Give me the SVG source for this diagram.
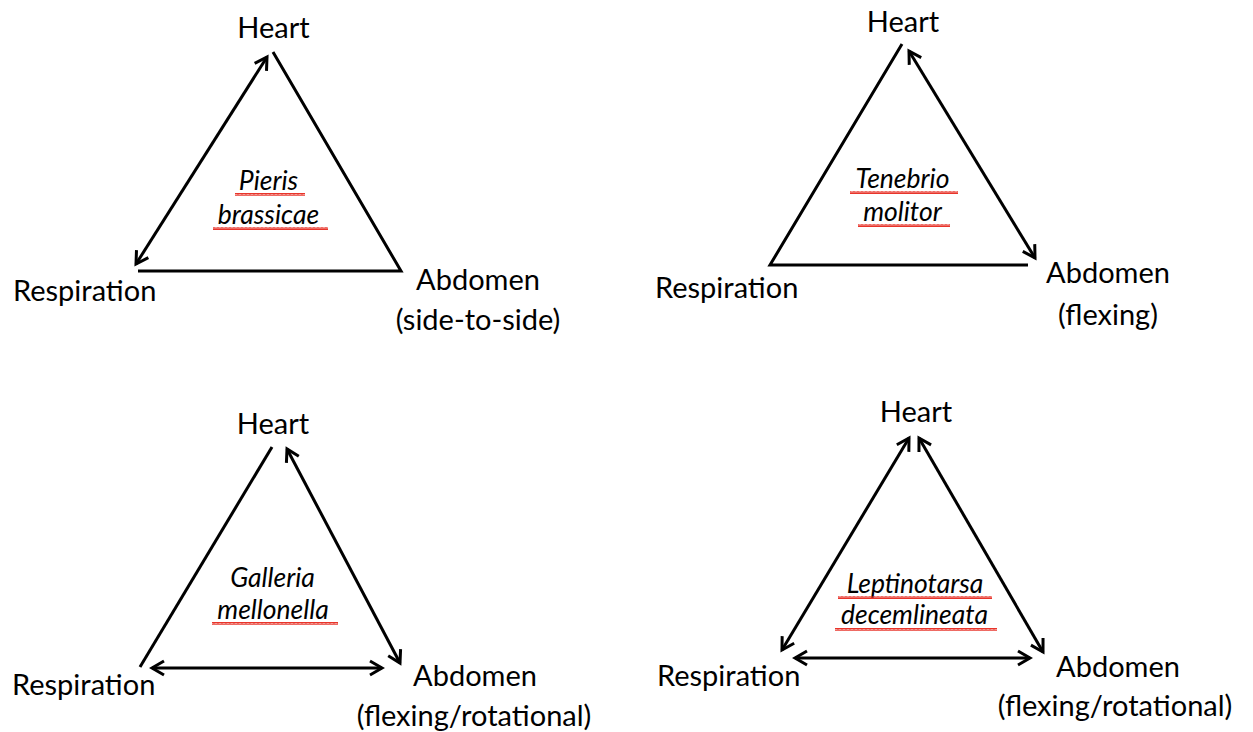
<svg xmlns="http://www.w3.org/2000/svg" width="1253" height="732" viewBox="0 0 1253 732">
<style>
.lbl{font-family:Lato,"Liberation Sans",sans-serif;font-size:29px;fill:#000}
.sp{font-family:Lato,"Liberation Sans",sans-serif;font-size:26.5px;font-style:italic;fill:#000;text-anchor:middle}
.mid{text-anchor:middle}
.ln{fill:none;stroke:#000;stroke-width:3;stroke-linejoin:miter}
.ar{fill:none;stroke:#000;stroke-width:3;marker-start:url(#ah);marker-end:url(#ah)}
.sq{fill:url(#sqp)}
</style>
<defs>
<marker id="ah" viewBox="-16 -10 20 20" refX="0" refY="0" markerWidth="20" markerHeight="20" markerUnits="userSpaceOnUse" orient="auto-start-reverse" overflow="visible">
<path d="M-12,-7 L0,0 L-12,7" fill="none" stroke="#000" stroke-width="3"/>
</marker>
<pattern id="sqp" width="4" height="3" patternUnits="userSpaceOnUse">
<path d="M0,2.5 L1,0.5 L2,2.5 L3,0.5 L4,2.5" fill="none" stroke="#e8342a" stroke-width="1.3"/>
</pattern>
</defs>
<rect width="1253" height="732" fill="#fff"/>
<g id="connectors">
<line class="ar" x1="267" y1="57" x2="136" y2="264"/>
<polyline class="ln" points="273,52 401,271 138,271"/>
<polyline class="ln" points="1028,265 770,265 902,44"/>
<line class="ar" x1="909" y1="51" x2="1035" y2="258"/>
<line class="ln" x1="272" y1="447" x2="140" y2="667"/>
<line class="ar" x1="287" y1="449" x2="400" y2="663"/>
<line class="ar" x1="152" y1="668" x2="382" y2="668"/>
<line class="ar" x1="909" y1="438" x2="782" y2="650"/>
<line class="ar" x1="919" y1="438" x2="1043" y2="652"/>
<line class="ar" x1="795" y1="658" x2="1030" y2="658"/>
</g>
<g id="tl-heart"><text class="lbl mid" x="273.5" y="38">Heart</text></g>
<g id="tl-respiration"><text class="lbl" x="13" y="301">Respiration</text></g>
<g id="tl-abdomen"><text class="lbl mid" x="478" y="290">Abdomen</text><text class="lbl mid" x="478" y="330">(side-to-side)</text></g>
<g id="tl-species"><text class="sp" x="268.5" y="190">Pieris</text><text class="sp" x="268.5" y="224">brassicae</text>
<rect class="sq" x="235" y="193" width="70" height="3"/><rect class="sq" x="213" y="227" width="115" height="3"/></g>
<g id="tr-heart"><text class="lbl mid" x="903" y="32">Heart</text></g>
<g id="tr-respiration"><text class="lbl" x="655" y="298">Respiration</text></g>
<g id="tr-abdomen"><text class="lbl mid" x="1108" y="283">Abdomen</text><text class="lbl mid" x="1108" y="325">(flexing)</text></g>
<g id="tr-species"><text class="sp" x="902.5" y="188">Tenebrio</text><text class="sp" x="902.5" y="221">molitor</text>
<rect class="sq" x="850" y="191" width="108" height="3"/><rect class="sq" x="858" y="224" width="92" height="3"/></g>
<g id="bl-heart"><text class="lbl mid" x="273" y="434">Heart</text></g>
<g id="bl-respiration"><text class="lbl" x="12" y="695">Respiration</text></g>
<g id="bl-abdomen"><text class="lbl mid" x="475" y="686">Abdomen</text><text class="lbl mid" x="474" y="726">(flexing/rotational)</text></g>
<g id="bl-species"><text class="sp" x="272.5" y="587">Galleria</text><text class="sp" x="273" y="619">mellonella</text>
<rect class="sq" x="212" y="622" width="126" height="3"/></g>
<g id="br-heart"><text class="lbl mid" x="916" y="422">Heart</text></g>
<g id="br-respiration"><text class="lbl" x="657" y="686">Respiration</text></g>
<g id="br-abdomen"><text class="lbl mid" x="1118" y="677">Abdomen</text><text class="lbl mid" x="1115" y="716">(flexing/rotational)</text></g>
<g id="br-species"><text class="sp" x="915" y="593">Leptinotarsa</text><text class="sp" x="914.5" y="624">decemlineata</text>
<rect class="sq" x="838" y="596" width="154" height="3"/><rect class="sq" x="835" y="628" width="162" height="3"/></g>
</svg>
